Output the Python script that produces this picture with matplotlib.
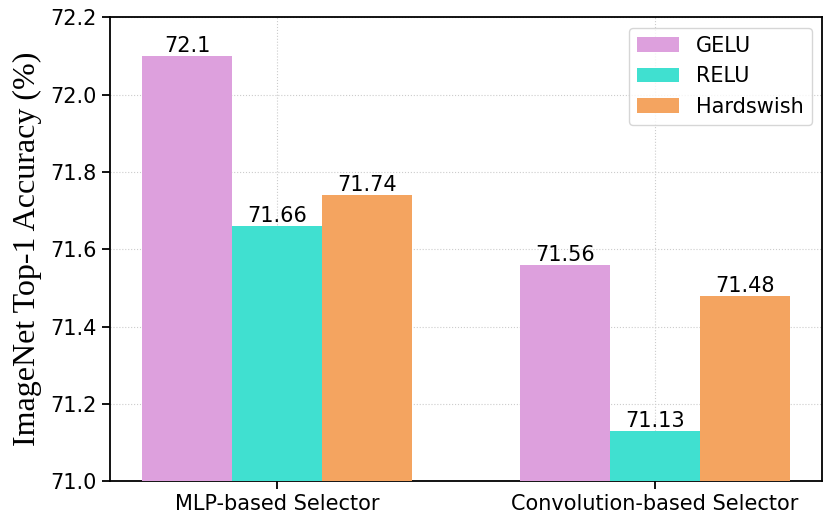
import matplotlib
matplotlib.use('Agg')
import matplotlib.pyplot as plt
import numpy as np

groups = ['MLP-based Selector', 'Convolution-based Selector']
acts = ['GELU', 'RELU', 'Hardswish']
gelu = [72.1, 71.56]
relu = [71.66, 71.13]
hardswish = [71.74, 71.48]
colors = ['plum', 'turquoise', 'sandybrown']

fig = plt.figure(figsize=(8.3, 5.23), dpi=100)
ax = fig.add_axes([0.1325, 0.08, 0.858, 0.887])

x = np.arange(len(groups))
w = 0.238
for i, (name, vals) in enumerate(zip(acts, [gelu, relu, hardswish])):
    bars = ax.bar(x + (i - 1) * w, np.array(vals) - 71.0, w, bottom=71.0,
                  color=colors[i], label=name, zorder=3)
    for b, v in zip(bars, vals):
        ax.text(b.get_x() + b.get_width() / 2, v, str(v), ha='center', va='bottom',
                fontsize=15, zorder=4)

ax.set_ylim(71.0, 72.2)
ax.set_yticks(np.arange(71.0, 72.21, 0.2))
ax.set_yticklabels(['%.1f' % t for t in np.arange(71.0, 72.21, 0.2)])
ax.set_xticks(x)
ax.set_xticklabels(groups)
ax.tick_params(labelsize=15, length=6, width=1.3)
ax.set_ylabel('ImageNet Top-1 Accuracy (%)', family='Liberation Serif', fontsize=23,
              labelpad=6)
ax.grid(True, linestyle=':', color='#cccccc', linewidth=0.8, zorder=0)
for s in ax.spines.values():
    s.set_linewidth(1.3)
ax.legend(fontsize=15, loc='upper right')

plt.savefig('out.png', dpi=100)
